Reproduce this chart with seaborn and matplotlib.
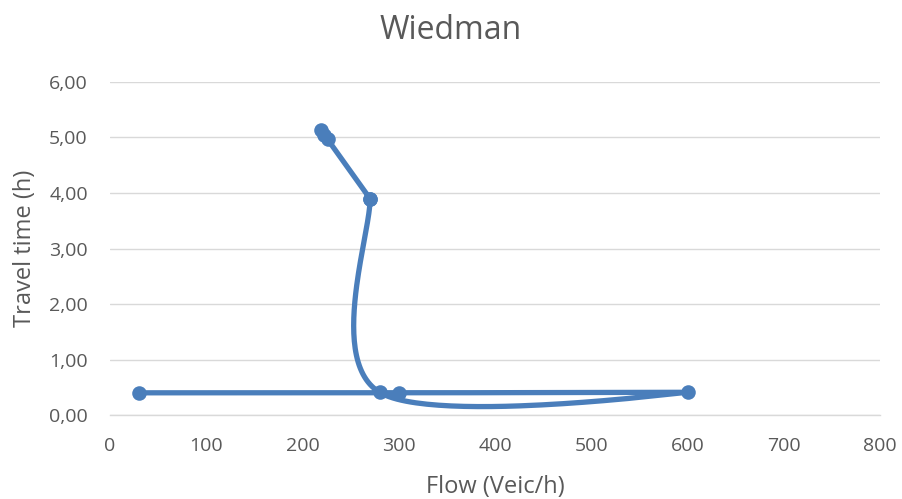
import numpy as np
import pandas as pd
import matplotlib
matplotlib.use("Agg")
import matplotlib.pyplot as plt
import seaborn as sns
from matplotlib.ticker import FuncFormatter

# Data (in drawing order, as the Excel series; the 270 point appears twice)
flow = [30, 300, 600, 280, 270, 270, 226, 222, 219]
travel_time = [0.40, 0.40, 0.41, 0.41, 3.90, 3.90, 4.97, 5.05, 5.13]
x_ticks = [0, 100, 200, 300, 400, 500, 600, 700, 800]
y_ticks = [0, 1, 2, 3, 4, 5, 6]

title = "Wiedman"
xlabel = "Flow (Veic/h)"
ylabel = "Travel time (h)"

sns.set_theme(style="white")
plt.rcParams['font.family'] = ['Open Sans', 'DejaVu Sans']

fig = plt.figure(figsize=(9.02, 4.99), dpi=100)
ax = fig.add_axes([0.122, 0.1683, 0.8537, 0.6674])
ax.set_xlim(0, 800)
ax.set_ylim(0, 6)

# Excel-like smoothing (cubic Bezier, tension 1/6) computed in display-scaled space
sx, sy = 770 / 800.0, 333 / 6.0
P = np.column_stack([np.array(flow) * sx, np.array(travel_time) * sy])
n = len(P)
curve = [P[:1]]
for i in range(n - 1):
    p0 = P[i - 1] if i > 0 else P[i]
    p1, p2 = P[i], P[i + 1]
    p3 = P[i + 2] if i + 2 < n else P[i + 1]
    if np.allclose(p1, p2):
        continue
    c1 = p1 + (p2 - p0) / 6.0
    c2 = p2 - (p3 - p1) / 6.0
    t = np.linspace(0, 1, 60)[1:, None]
    seg = ((1 - t) ** 3) * p1 + 3 * ((1 - t) ** 2) * t * c1 + 3 * (1 - t) * t ** 2 * c2 + t ** 3 * p2
    curve.append(seg)
curve = np.vstack(curve)
curve_df = pd.DataFrame({"x": curve[:, 0] / sx, "y": curve[:, 1] / sy})

color = "#4a7ebb"
sns.lineplot(data=curve_df, x="x", y="y", sort=False, estimator=None, ax=ax,
             color=color, linewidth=3.8, solid_capstyle="round", solid_joinstyle="round")
pts = pd.DataFrame({"x": flow, "y": travel_time})
sns.scatterplot(data=pts, x="x", y="y", ax=ax, color=color, s=110, edgecolor=color,
                linewidth=0, zorder=5)

ax.set_xticks(x_ticks)
ax.set_yticks(y_ticks)
ax.yaxis.set_major_formatter(FuncFormatter(lambda v, p: f"{v:.2f}".replace(".", ",")))
ax.grid(axis="y", color="#d9d9d9", linewidth=1.0)
ax.grid(axis="x", visible=False)
for s in ax.spines.values():
    s.set_visible(False)
ax.spines["bottom"].set_visible(True)
ax.spines["bottom"].set_color("#d9d9d9")
ax.spines["bottom"].set_linewidth(1.0)
ax.tick_params(axis="both", length=0, labelsize=14, colors="#595959")
ax.tick_params(axis="y", pad=16)
ax.tick_params(axis="x", pad=16)
ax.set_xlabel(xlabel, fontsize=17, color="#595959", labelpad=14)
ax.set_ylabel(ylabel, fontsize=17, color="#595959", labelpad=9)
fig.suptitle(title, fontsize=23, color="#595959", y=0.972)

fig.savefig("out.png", dpi=100)
